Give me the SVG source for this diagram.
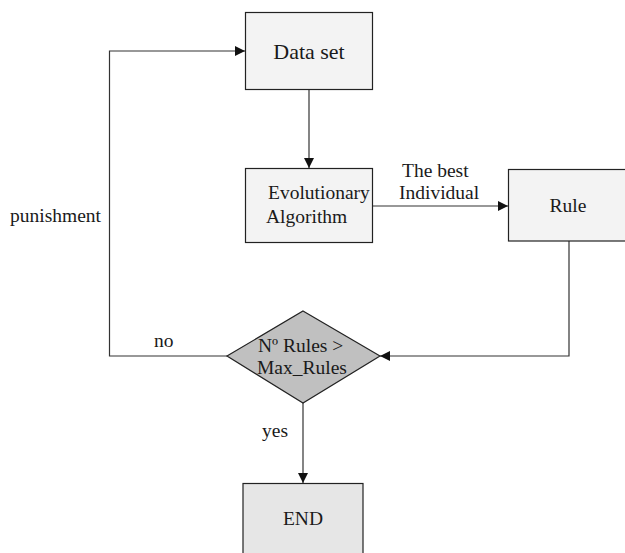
<svg xmlns="http://www.w3.org/2000/svg" width="625" height="553" viewBox="0 0 625 553">
<style>
text{font-family:"Liberation Serif","Times New Roman",serif;font-size:19.5px;fill:#1a1a1a}
.box{stroke:#222;stroke-width:1.2}
.c{fill:none;stroke:#333;stroke-width:1.2}
</style>
<defs>
<marker id="ah" viewBox="0 0 10 10" refX="10" refY="5" markerWidth="10" markerHeight="10" markerUnits="userSpaceOnUse" orient="auto">
<path d="M0,0 L10,5 L0,10 z" fill="#111"/>
</marker>
</defs>
<rect width="625" height="553" fill="#fff"/>
<g id="connectors">
<path class="c" d="M309,89 V168" marker-end="url(#ah)"/>
<path class="c" d="M372.5,206 H508" marker-end="url(#ah)"/>
<path class="c" d="M569,241 V356 H380" marker-end="url(#ah)"/>
<path class="c" d="M227,356 H109.5 V51 H245" marker-end="url(#ah)"/>
<path class="c" d="M303,403 V483" marker-end="url(#ah)"/>
<text x="402" y="177">The best</text>
<text x="399" y="199">Individual</text>
<text x="10" y="222">punishment</text>
<text x="154" y="347">no</text>
<text x="262" y="437">yes</text>
</g>
<g id="dataset">
<rect class="box" x="245.5" y="12.5" width="127" height="77" fill="#f3f3f3"/>
<text x="309" y="59" text-anchor="middle" style="font-size:22px">Data set</text>
</g>
<g id="evolutionary">
<rect class="box" x="245.5" y="168.5" width="127" height="74" fill="#f3f3f3"/>
<text x="268" y="199">Evolutionary</text>
<text x="266" y="223">Algorithm</text>
</g>
<g id="rule">
<rect class="box" x="508.5" y="169.5" width="140" height="71.5" fill="#f3f3f3"/>
<text x="568" y="212" text-anchor="middle">Rule</text>
</g>
<g id="decision">
<polygon class="box" points="303,311 380,356 303,403 227,356" fill="#c0c0c0"/>
<text x="258" y="352">Nº Rules &gt;</text>
<text x="257" y="374">Max_Rules</text>
</g>
<g id="end">
<rect class="box" x="243" y="483.5" width="120" height="90" fill="#e6e6e6"/>
<text x="303" y="525" text-anchor="middle">END</text>
</g>
</svg>
